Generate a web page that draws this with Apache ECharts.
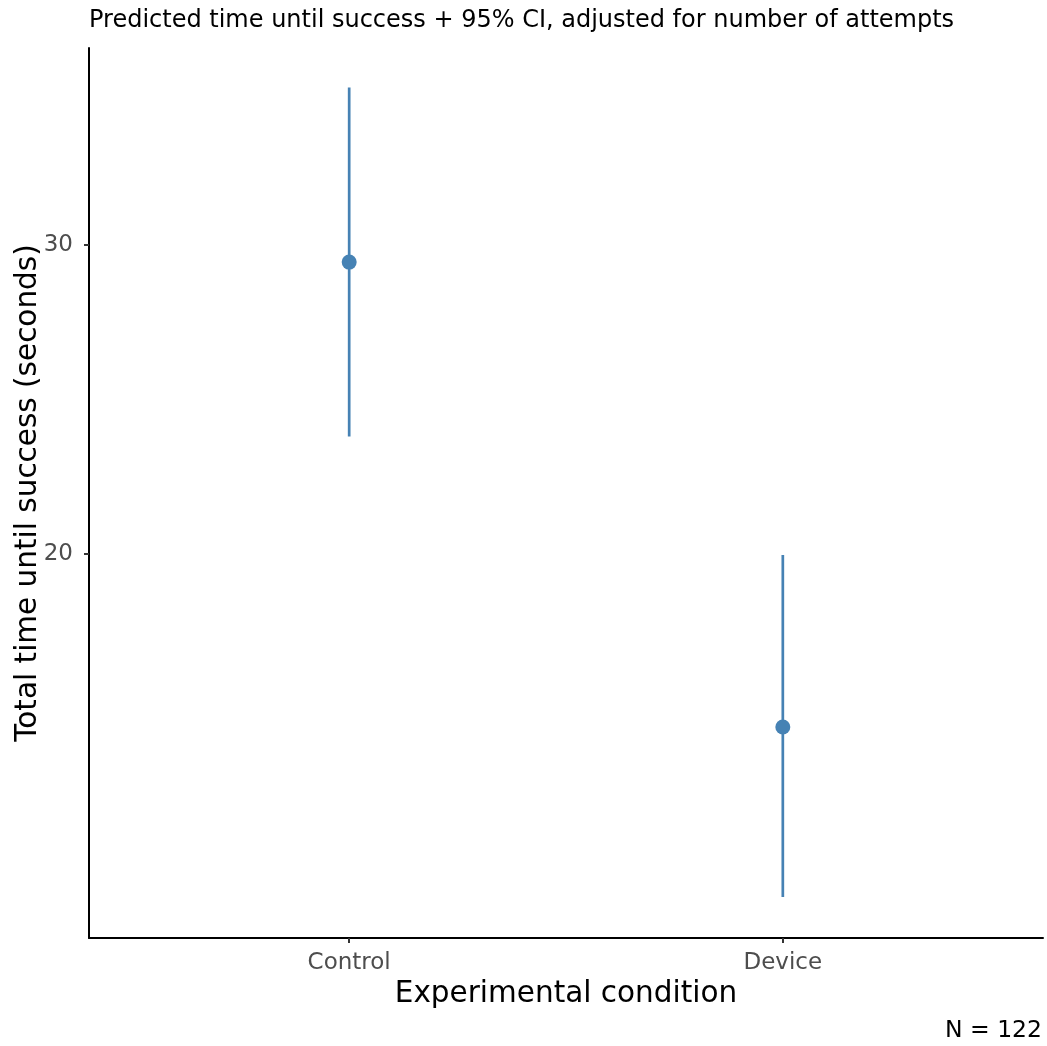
<!DOCTYPE html>
<html>
<head>
<meta charset="utf-8">
<script src="https://cdn.jsdelivr.net/npm/echarts@6/dist/echarts.min.js"></script>
<style>
  html, body { margin: 0; padding: 0; background: #fff; }
  #chart { width: 1047px; height: 1046px; }
</style>
</head>
<body>
<div id="chart"></div>
<script>
// condition labels and their x positions
const conditions = ["Control", "Device"];
const positions = [1, 2];
// predicted time (seconds) and 95% CI
const predicted = [29.45, 14.4];
const ciLower = [23.8, 8.9];
const ciUpper = [35.1, 19.97];
const yTicks = [20, 30];

const blue = "#4682B4";
const font = "DejaVu Sans";

let myChart = echarts.init(document.getElementById("chart"));

const ciData = positions.map((p, i) => [p, ciLower[i], ciUpper[i]]);
const pointData = positions.map((p, i) => [p, predicted[i]]);

let option = {
  animation: false,
  backgroundColor: "#fff",
  textStyle: { fontFamily: font },
  title: [
    {
      text: "Predicted time until success + 95% CI, adjusted for number of attempts",
      left: 84,
      top: 4,
      textStyle: { fontFamily: font, fontSize: 24, fontWeight: "normal", color: "#000" }
    },
    {
      text: "N = 122",
      right: 0,
      top: 1014,
      textStyle: { fontFamily: font, fontSize: 23.5, fontWeight: "normal", color: "#000" }
    }
  ],
  grid: { left: 89, right: 4, top: 48, bottom: 108, containLabel: false, outerBoundsMode: "none" },
  xAxis: {
    type: "value",
    min: 0.4,
    max: 2.6,
    name: "Experimental condition",
    nameLocation: "middle",
    nameGap: 41,
    nameMoveOverlap: false,
    nameTextStyle: { fontFamily: font, fontSize: 29.5, color: "#000" },
    splitLine: { show: false },
    axisLine: { lineStyle: { color: "#000", width: 2 } },
    axisTick: { customValues: positions, length: 5, lineStyle: { color: "#333", width: 2 } },
    axisLabel: {
      customValues: positions,
      formatter: v => conditions[Math.round(v) - 1] || "",
      fontFamily: font, fontSize: 23, color: "#4d4d4d", margin: 14
    }
  },
  yAxis: {
    type: "value",
    min: 7.57,
    max: 36.38,
    name: "Total time until success (seconds)",
    nameLocation: "middle",
    nameGap: 46,
    nameMoveOverlap: false,
    nameTextStyle: { fontFamily: font, fontSize: 29.5, color: "#000" },
    splitLine: { show: false },
    axisLine: { show: true, lineStyle: { color: "#000", width: 2 } },
    axisTick: { show: true, customValues: yTicks, length: 5, lineStyle: { color: "#333", width: 2 } },
    axisLabel: {
      customValues: yTicks,
      fontFamily: font, fontSize: 23, color: "#4d4d4d", margin: 16
    }
  },
  series: [
    {
      type: "custom",
      data: ciData,
      renderItem: (params, api) => {
        const top = api.coord([api.value(0), api.value(2)]);
        const bottom = api.coord([api.value(0), api.value(1)]);
        return {
          type: "line",
          shape: { x1: top[0], y1: top[1], x2: bottom[0], y2: bottom[1] },
          style: { stroke: blue, lineWidth: 2.7 }
        };
      },
      encode: { x: 0, y: [1, 2] },
      z: 2
    },
    {
      type: "scatter",
      data: pointData,
      symbolSize: 15,
      itemStyle: { color: blue, opacity: 1 },
      z: 3
    }
  ]
};
myChart.setOption(option);
window.addEventListener("resize", () => myChart.resize(), false);
</script>
</body>
</html>
